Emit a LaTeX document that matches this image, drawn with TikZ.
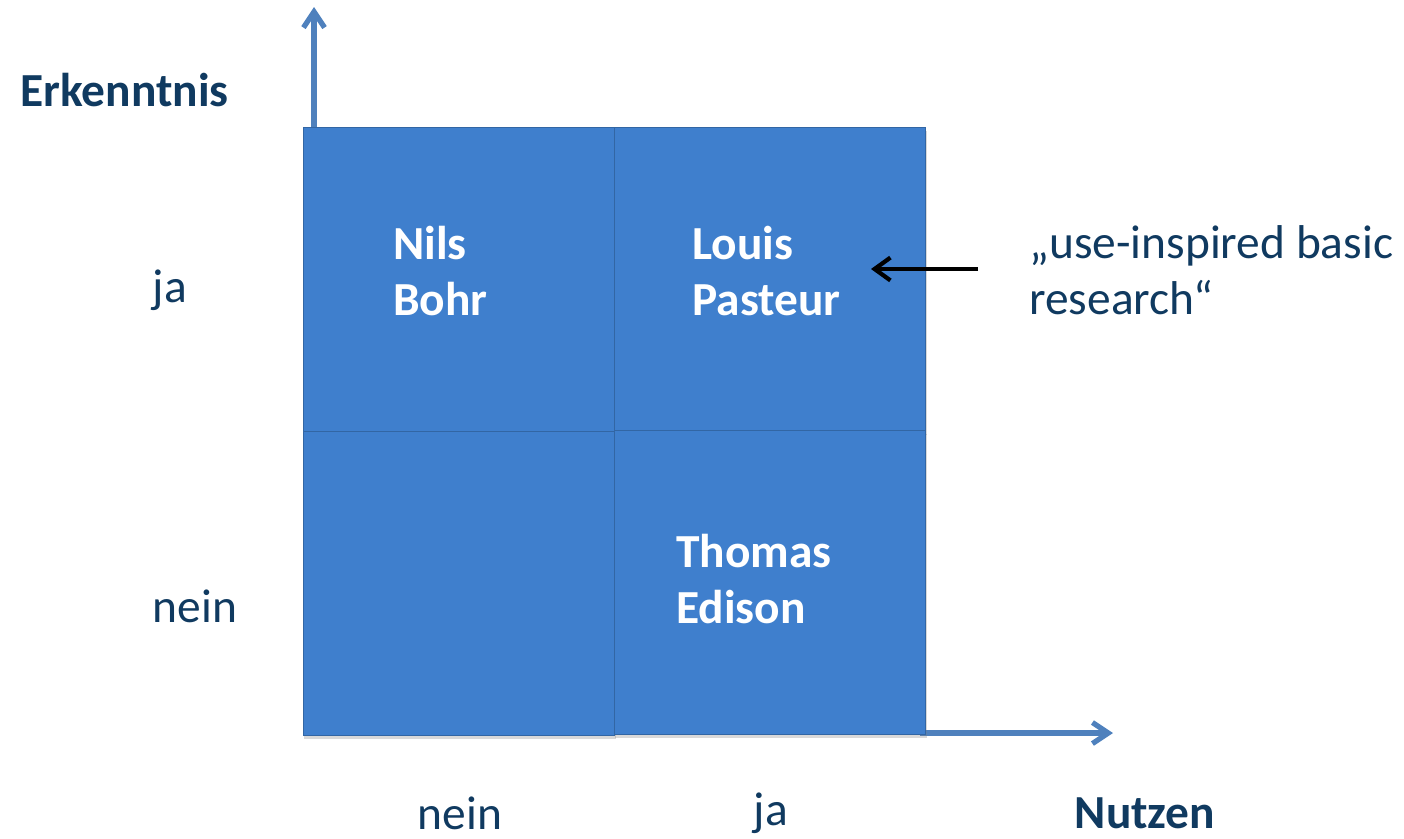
\documentclass[tikz,border=0pt]{standalone}
\usepackage{fontspec}
\setmainfont{Carlito}
\usepackage{tikz}
\usetikzlibrary{arrows.meta, positioning, shadows}
\definecolor{cellblue}{RGB}{63, 127, 205}
\definecolor{axisblue}{RGB}{79, 129, 189}
\definecolor{darknavy}{RGB}{16, 58, 96}

\begin{document}
\begin{tikzpicture}[
    x=0.02cm, y=-0.02cm,
    cell/.style={rectangle, draw=cellblue!80!black, line width=0.5pt, fill=cellblue,
                 minimum width=6.23cm, minimum height=6.08cm, inner sep=0pt, anchor=north west,
                 drop shadow={shadow xshift=0.5pt, shadow yshift=-2pt, opacity=0.3}},
    person/.style={font=\fontsize{27}{32}\selectfont\bfseries, color=white, align=left, anchor=west, inner sep=0pt},
    axis/.style={-{Straight Barb[length=9pt, width=12pt, line width=3pt]}, line width=3.2pt, color=axisblue},
    arrow/.style={-{Straight Barb[length=9pt, width=13pt, line width=2.4pt]}, line width=2.6pt, color=black},
    label/.style={font=\fontsize{27}{32}\selectfont, color=darknavy, inner sep=0pt},
    title/.style={font=\fontsize{27}{32}\selectfont\bfseries, color=darknavy, inner sep=0pt}
]
\useasboundingbox (0,0) rectangle (1404,839);

% axes
\coordinate (ystart) at (314,130);
\coordinate (ytip) at (314,7);
\coordinate (xstart) at (920,733);
\coordinate (xtip) at (1113,733);
\draw[axis] (ystart) -- (ytip);
\draw[axis] (xstart) -- (xtip);

% quadrants
\node[cell] (bohr) at (303,127) {};
\node[cell] (pasteur) at (614,127) {};
\node[cell] (empty) at (303,431) {};
\node[cell] (edison) at (614,430) {};

\node[person] (bohrtxt) at (393,271) {Nils\\Bohr};
\node[person] (pasteurtxt) at (692,271) {Louis\\Pasteur};
\node[person] (edisontxt) at (676,579) {Thomas\\Edison};

% annotation
\node[label, align=left, anchor=west] (quote) at (1029,270) {„use-inspired basic\\research“};
\coordinate (quoteend) at (978,269);
\coordinate (quotetip) at (871,269);
\draw[arrow] (quoteend) -- (quotetip);

% axis labels
\node[title, anchor=west] (erk) at (20,90) {Erkenntnis};
\node[label] (yja) at (170,290) {ja};
\node[label] (ynein) at (195,606) {nein};
\node[label] (xnein) at (460,813) {nein};
\node[label] (xja) at (771,813) {ja};
\node[title] (nutzen) at (1145,813) {Nutzen};

\end{tikzpicture}
\end{document}
